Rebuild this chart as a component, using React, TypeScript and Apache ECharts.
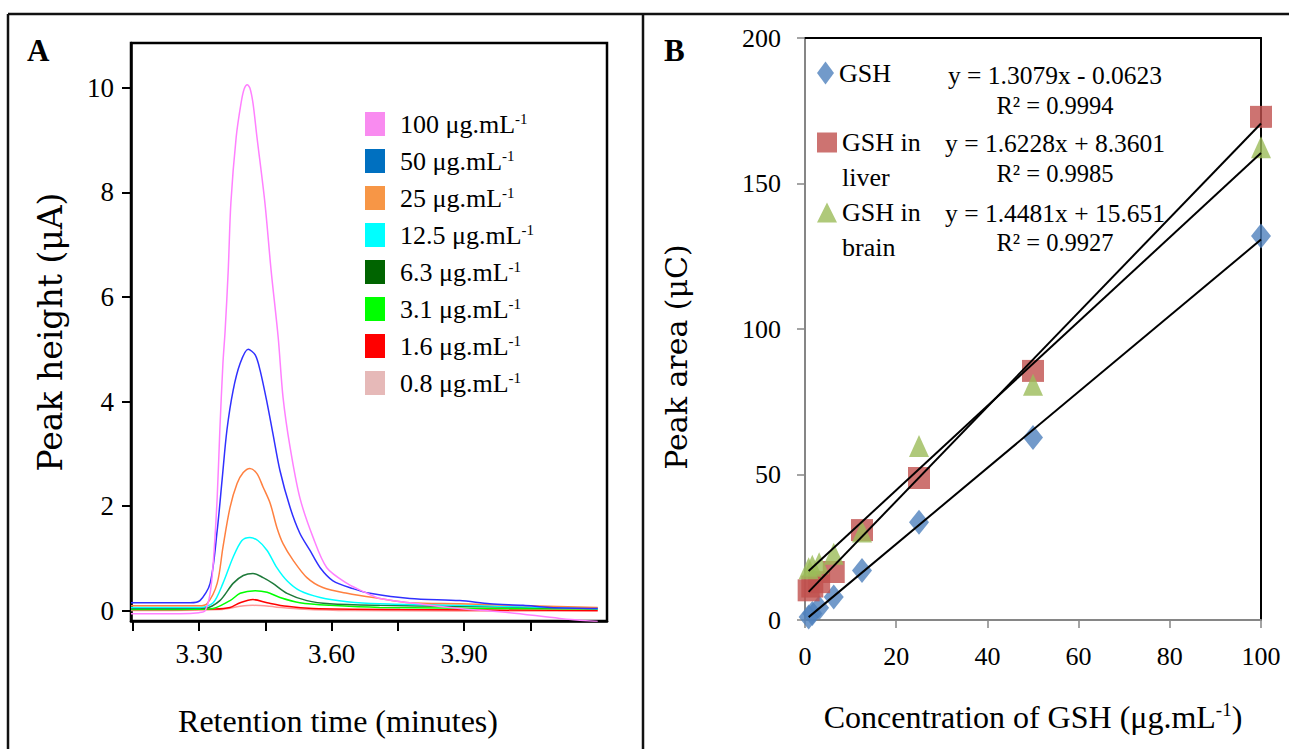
import React, { useEffect, useRef } from 'react';
import * as echarts from 'echarts';

// ---------- Panel A: chromatograms ----------
const concLabels = ['100', '50', '25', '12.5', '6.3', '3.1', '1.6', '0.8'];
const lineColors = ['#ff80ff', '#3030ff', '#ff8040', '#00ffff', '#1e7a3a', '#00ff00', '#ff0000', '#ff9898'];
const legendColors = ['#f98bf0', '#0070c0', '#f79646', '#00ffff', '#006400', '#00ff00', '#ff0000', '#e6b9b8'];

const trace100 = [[3.146, -0.06], [3.257, -0.06], [3.300, -0.04], [3.314, 0.0], [3.325, 0.33], [3.332, 0.9], [3.341, 2.16], [3.347, 3.45], [3.354, 4.73], [3.359, 5.36], [3.366, 6.51], [3.372, 7.8], [3.384, 9.06], [3.395, 9.71], [3.402, 9.98], [3.409, 10.06], [3.415, 10.0], [3.422, 9.71], [3.431, 9.06], [3.449, 7.8], [3.463, 6.51], [3.479, 5.23], [3.49, 4.08], [3.506, 3.12], [3.528, 2.16], [3.558, 1.4], [3.589, 0.82], [3.635, 0.52], [3.68, 0.33], [3.709, 0.23], [3.777, 0.15], [3.89, 0.04], [4.003, -0.04], [4.116, -0.15], [4.202, -0.21]];
const trace50 = [[3.146, 0.15], [3.28, 0.15], [3.302, 0.19], [3.325, 0.52], [3.341, 1.53], [3.352, 2.49], [3.363, 3.45], [3.377, 4.21], [3.393, 4.73], [3.411, 5.0], [3.427, 4.89], [3.438, 4.6], [3.454, 3.97], [3.467, 3.39], [3.483, 2.68], [3.506, 1.97], [3.528, 1.48], [3.551, 1.15], [3.574, 0.82], [3.603, 0.57], [3.648, 0.42], [3.687, 0.33], [3.777, 0.23], [3.89, 0.19], [3.958, 0.13], [4.033, 0.1], [4.094, 0.06], [4.202, 0.04]];
const trace25 = [[3.146, 0.09], [3.3, 0.09], [3.318, 0.13], [3.341, 0.52], [3.354, 1.21], [3.37, 1.97], [3.386, 2.43], [3.4, 2.64], [3.415, 2.72], [3.431, 2.62], [3.445, 2.36], [3.461, 2.05], [3.476, 1.59], [3.49, 1.28], [3.513, 0.96], [3.544, 0.63], [3.58, 0.44], [3.635, 0.33], [3.709, 0.23], [3.777, 0.15], [3.89, 0.13], [4.003, 0.1], [4.202, 0.06]];
const trace12 = [[3.146, 0.06], [3.302, 0.06], [3.332, 0.15], [3.354, 0.52], [3.377, 1.02], [3.397, 1.34], [3.415, 1.4], [3.433, 1.34], [3.454, 1.15], [3.476, 0.82], [3.499, 0.57], [3.528, 0.38], [3.574, 0.25], [3.635, 0.17], [3.709, 0.13], [3.89, 0.1], [4.202, 0.04]];
const trace6 = [[3.146, 0.04], [3.314, 0.05], [3.347, 0.19], [3.377, 0.52], [3.4, 0.67], [3.422, 0.71], [3.445, 0.63], [3.467, 0.52], [3.499, 0.33], [3.544, 0.19], [3.596, 0.13], [3.709, 0.1], [3.89, 0.08], [4.202, 0.04]];
const trace3 = [[3.146, 0.02], [3.325, 0.03], [3.37, 0.19], [3.393, 0.33], [3.427, 0.38], [3.454, 0.35], [3.483, 0.25], [3.528, 0.15], [3.596, 0.1], [3.709, 0.06], [4.202, 0.03]];
const trace1 = [[3.146, 0.02], [3.336, 0.03], [3.37, 0.06], [3.393, 0.15], [3.422, 0.21], [3.454, 0.15], [3.499, 0.08], [3.558, 0.04], [3.755, 0.02], [4.202, 0.0]];
const trace08 = [[3.146, 0.0], [3.347, 0.02], [3.393, 0.08], [3.422, 0.1], [3.472, 0.07], [3.528, 0.03], [3.641, 0.0], [4.202, -0.01]];
const traces = [trace100, trace50, trace25, trace12, trace6, trace3, trace1, trace08];

const xTickValuesA = [3.15, 3.3, 3.45, 3.6, 3.75, 3.9, 4.05];
const xLabelValuesA = [3.3, 3.6, 3.9];
const yTickValuesA = [0, 2, 4, 6, 8, 10];

// ---------- Panel B: calibration ----------
const gshConc = [0.8, 1.6, 3.1, 6.3, 12.5, 25, 50, 100];
const gshArea = [1.0, 2.2, 4.2, 7.9, 17.0, 33.6, 62.7, 132.0];
const liverArea = [10.2, 11.5, 13.0, 16.5, 30.9, 48.8, 85.6, 172.9];
const brainArea = [17.8, 18.6, 19.5, 22.8, 30.4, 59.8, 80.8, 162.5];
const seriesNamesB = ['GSH', 'GSH in liver', 'GSH in brain'];
const slopes = [1.3079, 1.6228, 1.4481];
const intercepts = [-0.0623, 8.3601, 15.651];
const equations = ['y = 1.3079x - 0.0623', 'y = 1.6228x + 8.3601', 'y = 1.4481x + 15.651'];
const r2Labels = ['R² = 0.9994', 'R² = 0.9985', 'R² = 0.9927'];

const SERIF = '"Liberation Serif", "Times New Roman", serif';
const WIDE = '"DejaVu Serif", serif';

export default function App() {
  const ref = useRef<HTMLDivElement>(null);
  useEffect(() => {
    if (!ref.current) return;
    const chart = echarts.init(ref.current, null, { renderer: 'svg' });
    const markerColors = ['#4f81bd', '#c0504d', '#9bbb59'];
    const markerSymbols = ['diamond', 'rect', 'triangle'];
    const markerSizes = [[20, 25], [22, 22], [20, 22]];
    const areas = [gshArea, liverArea, brainArea];

    const seriesA = concLabels.map((c, i) => ({
      type: 'line',
      name: `${c} μg.mL-1`,
      xAxisIndex: 0,
      yAxisIndex: 0,
      data: traces[i],
      symbol: 'none',
      smooth: 0.3,
      lineStyle: { color: lineColors[i], width: 1.5 },
      itemStyle: { color: lineColors[i] },
      z: 10 - i,
      silent: true,
    }));

    const scatterB = seriesNamesB.map((n, k) => ({
      type: 'scatter',
      name: n,
      xAxisIndex: 1,
      yAxisIndex: 1,
      symbol: markerSymbols[k],
      symbolSize: markerSizes[k],
      itemStyle: { color: markerColors[k] },
      data: gshConc.map((c, i) => [c, areas[k][i]]),
      z: 3 + k,
    }));

    const trendB = slopes.map((s, k) => ({
      type: 'line',
      name: 'trend' + k,
      xAxisIndex: 1,
      yAxisIndex: 1,
      symbol: 'none',
      lineStyle: { color: '#000', width: 2 },
      data: [
        [gshConc[0], s * gshConc[0] + intercepts[k]],
        [gshConc[gshConc.length - 1], s * gshConc[gshConc.length - 1] + intercepts[k]],
      ],
      z: 10,
      silent: true,
    }));

    const tickStyleA = { color: '#000', width: 2 };
    const grayAxis = '#868686';

    const legendB = (idx: number, top: number, w: number, h: number, twoLine: boolean) => ({
      data: [seriesNamesB[idx]],
      orient: 'vertical',
      left: 817,
      top,
      padding: 0,
      itemWidth: w,
      itemHeight: h,
      selectedMode: false,
      formatter: (name: string) => (twoLine ? '\n' + name.replace(' in ', ' in\n') : name),
      textStyle: {
        fontSize: 26,
        fontFamily: SERIF,
        color: '#000',
        lineHeight: twoLine ? 35 : 26,
      },
    });

    const option: any = {
      animation: false,
      backgroundColor: '#fff',
      grid: [
        { left: 131, top: 43, width: 476, height: 578, show: true, borderColor: '#000', borderWidth: 2.5, backgroundColor: 'transparent' },
        { left: 805, top: 38, width: 456, height: 582 },
      ],
      xAxis: [
        {
          gridIndex: 0, type: 'value', min: 3.146, max: 4.223,
          axisLine: { show: true, onZero: false, lineStyle: { color: '#000', width: 2.5 } },
          axisTick: { show: true, customValues: xTickValuesA, length: 10, lineStyle: tickStyleA },
          axisLabel: { customValues: xLabelValuesA, formatter: (v: number) => v.toFixed(2), fontSize: 27, fontFamily: SERIF, color: '#000', margin: 19 },
          splitLine: { show: false },
          name: 'Retention time (minutes)', nameLocation: 'middle', nameGap: 84,
          nameTextStyle: { fontSize: 32, fontFamily: SERIF, color: '#000', padding: [0, 62, 0, 0] },
        },
        {
          gridIndex: 1, type: 'value', min: 0, max: 100, interval: 20,
          axisLine: { show: true, onZero: false, lineStyle: { color: grayAxis, width: 2 } },
          axisTick: { show: true, length: 8, lineStyle: { color: grayAxis, width: 1.5 } },
          axisLabel: { fontSize: 26, fontFamily: SERIF, color: '#000', margin: 23 },
          splitLine: { show: false },
          name: '{a|Concentration of GSH (μg.mL}{s|-1}{a|)}', nameLocation: 'middle', nameGap: 80,
          nameTextStyle: {
            color: '#000',
            rich: {
              a: { fontSize: 32, fontFamily: SERIF, color: '#000', lineHeight: 34 },
              s: { fontSize: 19, fontFamily: SERIF, color: '#000', verticalAlign: 'top', lineHeight: 19 },
            },
          },
        },
        {
          gridIndex: 1, type: 'value', min: 0, max: 100, position: 'top',
          axisLine: { show: true, onZero: false, lineStyle: { color: '#000', width: 2 } },
          axisTick: { show: false }, axisLabel: { show: false }, splitLine: { show: false },
        },
      ],
      yAxis: [
        {
          gridIndex: 0, type: 'value', min: -0.2, max: 10.86,
          axisLine: { show: true, onZero: false, lineStyle: { color: '#000', width: 2.5 } },
          axisTick: { show: true, customValues: yTickValuesA, length: 9, lineStyle: tickStyleA },
          axisLabel: { customValues: yTickValuesA, fontSize: 27, fontFamily: SERIF, color: '#000', margin: 17 },
          splitLine: { show: false },
          name: 'Peak height (μA)', nameLocation: 'middle', nameRotate: 90, nameGap: 64,
          nameTextStyle: { fontSize: 33, fontFamily: WIDE, color: '#000' },
        },
        {
          gridIndex: 1, type: 'value', min: 0, max: 200, interval: 50,
          axisLine: { show: true, onZero: false, lineStyle: { color: grayAxis, width: 2 } },
          axisTick: { show: true, length: 8, lineStyle: { color: grayAxis, width: 1.5 } },
          axisLabel: { fontSize: 26, fontFamily: SERIF, color: '#000', margin: 24 },
          splitLine: { show: false },
          name: 'Peak area (μC)', nameLocation: 'middle', nameRotate: 90, nameGap: 114,
          nameTextStyle: { fontSize: 30, fontFamily: WIDE, color: '#000', padding: [0, 56, 0, 0] },
        },
        {
          gridIndex: 1, type: 'value', min: 0, max: 200, position: 'right',
          axisLine: { show: true, onZero: false, lineStyle: { color: '#000', width: 2 } },
          axisTick: { show: false }, axisLabel: { show: false }, splitLine: { show: false },
        },
      ],
      legend: [
        {
          data: concLabels.map((c, i) => ({ name: `${c} μg.mL-1`, itemStyle: { color: legendColors[i], borderWidth: 0 } })),
          orient: 'vertical',
          left: 365,
          top: 111,
          padding: 0,
          icon: 'rect',
          itemWidth: 20,
          itemHeight: 24,
          itemGap: 11,
          selectedMode: false,
          formatter: (name: string) => `{n|${name.replace(/-1$/, '')}}{s|-1}`,
          textStyle: {
            padding: [0, 0, 0, 10],
            rich: {
              n: { fontSize: 26, fontFamily: SERIF, color: '#000', lineHeight: 26 },
              s: { fontSize: 15, fontFamily: SERIF, color: '#000', lineHeight: 15, verticalAlign: 'top' },
            },
          },
        },
        legendB(0, 60, 17, 23, false),
        legendB(1, 90, 20, 20, true),
        legendB(2, 160, 20, 20, true),
      ],
      graphic: [
        { type: 'line', shape: { x1: 8, y1: 14, x2: 1289, y2: 14 }, style: { stroke: '#111', lineWidth: 2.5 } },
        { type: 'line', shape: { x1: 8, y1: 14, x2: 8, y2: 749 }, style: { stroke: '#111', lineWidth: 2.5 } },
        { type: 'line', shape: { x1: 643, y1: 14, x2: 643, y2: 749 }, style: { stroke: '#111', lineWidth: 2.5 } },
        { type: 'text', x: 27, y: 50, style: { text: 'A', fontSize: 31, fontWeight: 'bold', fontFamily: SERIF, fill: '#000', verticalAlign: 'middle' } },
        { type: 'text', x: 664, y: 50, style: { text: 'B', fontSize: 31, fontWeight: 'bold', fontFamily: SERIF, fill: '#000', verticalAlign: 'middle' } },
        ...equations.map((t, k) => ({
          type: 'text', x: 1055, y: [75, 143, 213][k],
          style: { text: t, fontSize: 25.5, fontFamily: SERIF, fill: '#000', align: 'center', verticalAlign: 'middle' },
        })),
        ...r2Labels.map((t, k) => ({
          type: 'text', x: 1055, y: [105, 173, 242][k],
          style: { text: t, fontSize: 24.5, fontFamily: SERIF, fill: '#000', align: 'center', verticalAlign: 'middle' },
        })),
      ],
      series: [...seriesA, ...scatterB, ...trendB],
    };
    chart.setOption(option);
    return () => chart.dispose();
  }, []);
  return <div ref={ref} style={{ position: 'absolute', left: 0, top: 0, width: 1289, height: 749 }} />;
}
